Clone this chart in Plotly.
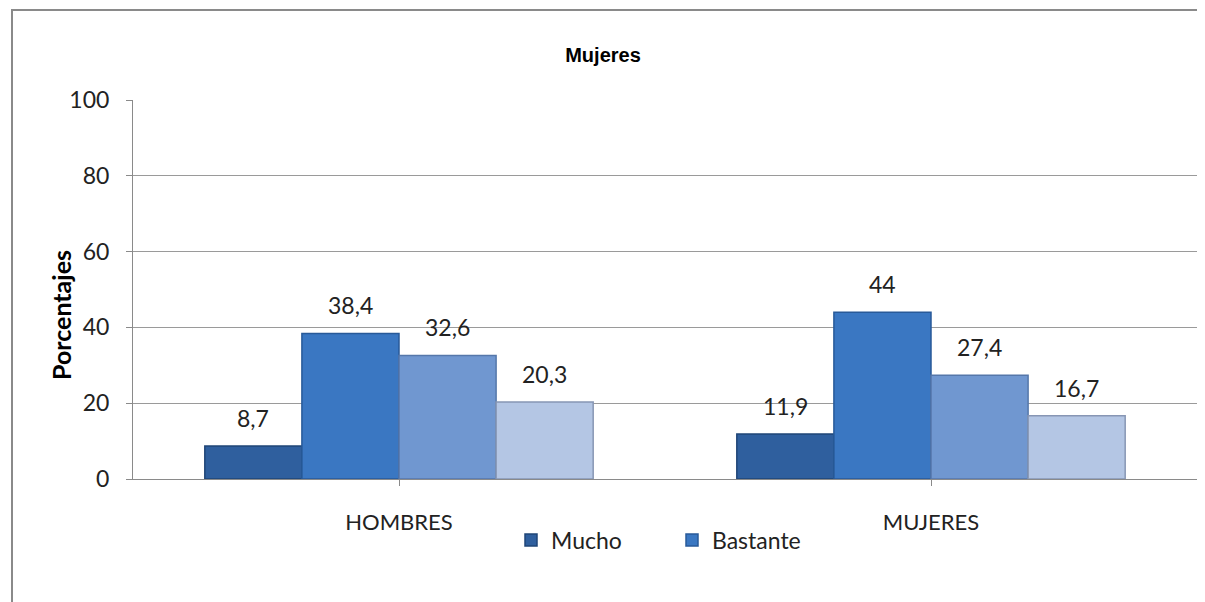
import plotly.graph_objects as go

categories = ["HOMBRES", "MUJERES"]
series_names = ["Mucho", "Bastante", "Poco", "Nada"]
mucho = [8.7, 11.9]
bastante = [38.4, 44.0]
poco = [32.6, 27.4]
nada = [20.3, 16.7]
values = [mucho, bastante, poco, nada]
labels = [["8,7", "11,9"], ["38,4", "44"], ["32,6", "27,4"], ["20,3", "16,7"]]
colors = ["#2F5F9E", "#3A77C2", "#7097D0", "#B4C6E4"]
line_colors = ["#1F4577", "#285A99", "#5577AA", "#8796B4"]
show_leg = [True, True, False, False]
y_ticks = [0, 20, 40, 60, 80, 100]
y_title = "Porcentajes"

FONT = "Lato, Noto Sans"
bargap = 0.27
nser = len(values)
w = (1 - bargap) / nser

fig = go.Figure()
for j in range(nser):
    fig.add_trace(go.Bar(
        x=list(range(len(categories))), y=values[j], name=series_names[j],
        marker=dict(color=colors[j], line=dict(color=line_colors[j], width=1.5)),
        showlegend=show_leg[j],
    ))
    for i in range(len(categories)):
        fig.add_annotation(
            x=i + (j - (nser - 1) / 2) * w, y=values[j][i], xref="x", yref="y",
            text=labels[j][i], showarrow=False, yanchor="bottom", yshift=12,
            font=dict(family=FONT, size=23, color="#222222"),
        )

# page is offset by 8px (body margin); compensate
OFF = 8
W, H = 1205 - OFF, 602 - OFF
L, R, T = 133 - OFF, 8, 100 - OFF
B = H - (479 - OFF)
pw, ph = W - L - R, H - T - B

def px_x(x):
    return (x - OFF - L) / pw

def px_y(y):
    return (H - B - (y - OFF)) / ph

fig.add_shape(type="rect", xref="paper", yref="paper",
              x0=px_x(12), x1=px_x(1230), y0=px_y(640), y1=px_y(10),
              line=dict(color="#8A8A8A", width=2), fillcolor="rgba(0,0,0,0)", layer="below")

fig.add_annotation(xref="paper", yref="paper", x=px_x(61), y=px_y(315),
                   xanchor="center", yanchor="middle", textangle=-90, showarrow=False,
                   text="<b>" + y_title + "</b>",
                   font=dict(family=FONT, size=25, color="#000000"))

fig.update_layout(
    width=W, height=H,
    margin=dict(l=L, r=R, t=T, b=B),
    paper_bgcolor="white", plot_bgcolor="white",
    barmode="group", bargap=bargap, bargroupgap=0,
    title=dict(text="<b>Mujeres</b>", x=(603 - OFF) / W, xanchor="center",
               y=1 - (55 - OFF) / H, yanchor="middle", yref="container",
               font=dict(family="Liberation Sans Narrow, Liberation Sans", size=20, color="#000000")),
    xaxis=dict(
        tickmode="array", tickvals=list(range(len(categories))), ticktext=categories,
        range=[-0.5, len(categories) - 0.5],
        showline=True, linecolor="#8A8A8A", linewidth=1,
        ticks="outside", tickson="boundaries", ticklen=6, tickcolor="#8A8A8A",
        showgrid=False, ticklabelstandoff=18, automargin=False,
        tickfont=dict(family=FONT, size=22, color="#222222"),
    ),
    yaxis=dict(
        range=[0, 100], tickvals=y_ticks,
        showline=True, linecolor="#8A8A8A", linewidth=1,
        ticks="outside", ticklen=6, tickcolor="#8A8A8A",
        showgrid=True, gridcolor="#9A9A9A", gridwidth=1,
        zeroline=False, automargin=False, ticklabelstandoff=12,
        tickfont=dict(family=FONT, size=23, color="#222222"),
    ),
    legend=dict(orientation="h", x=(672 - OFF - L) / pw, xanchor="center",
                y=px_y(540), yanchor="middle",
                font=dict(family=FONT, size=23, color="#222222"),
                itemwidth=30, entrywidth=116, entrywidthmode="pixels"),
)

fig.write_html("out.html")
